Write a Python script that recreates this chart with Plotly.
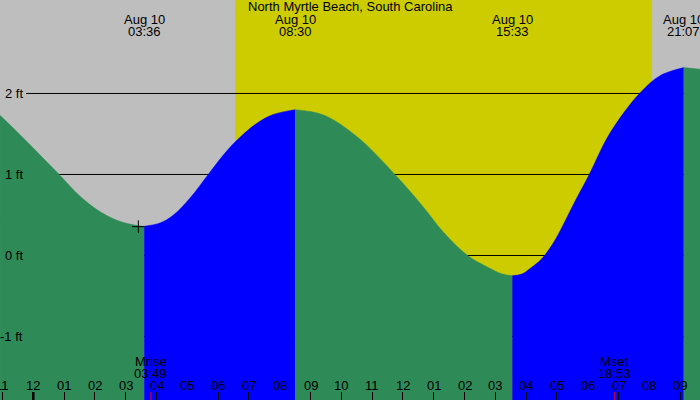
import plotly.graph_objects as go

# ---- data ----
tide_hours = [-1.08, -0.43, 0.22, 0.84, 1.52, 2.17, 2.82, 3.46, 3.60, 4.11, 4.55, 5.09,
              5.68, 6.17, 6.55, 7.25, 7.79, 8.50, 9.42, 10.50, 11.74, 12.66, 13.31,
              14.10, 14.83, 15.20, 15.55, 15.86, 16.13, 16.40, 16.60, 16.94, 17.26,
              17.59, 18.05, 18.72, 19.68, 20.35, 21.12, 21.65]
tide_feet = [1.73, 1.49, 1.24, 1.00, 0.73, 0.54, 0.42, 0.365, 0.36, 0.40, 0.50, 0.71,
             1.00, 1.24, 1.40, 1.63, 1.74, 1.80, 1.735, 1.47, 1.00, 0.60, 0.29,
             0.00, -0.16, -0.225, -0.25, -0.23, -0.16, -0.08, 0.00, 0.19, 0.42,
             0.67, 1.00, 1.51, 2.00, 2.22, 2.32, 2.30]

extreme_hours = [3.60, 8.50, 15.55, 21.12]
extreme_dates = ["Aug 10", "Aug 10", "Aug 10", "Aug 10"]
extreme_times = ["03:36", "08:30", "15:33", "21:07"]

sunrise_hour = 6.55
sunset_hour = 20.09

moon_hours = [3.82, 18.88]
moon_names = ["Mrise", "Mset"]
moon_times = ["03:49", "18:53"]

now_hour = [3.41]
now_feet = [0.356]

hour_ticks = list(range(-1, 22))
hour_labels = ["11", "12", "01", "02", "03", "04", "05", "06", "07", "08", "09", "10",
               "11", "12", "01", "02", "03", "04", "05", "06", "07", "08", "09"]
feet_ticks = [-1, 0, 1, 2]
feet_labels = ["-1 ft", "0 ft", "1 ft", "2 ft"]

title_text = "North Myrtle Beach, South Carolina"

# ---- styling ----
GRAY = "#BEBEBE"
YELLOW = "#CCCC00"
GREEN = "#2E8B57"
BLUE = "#0000FF"
FONT = dict(family="Liberation Sans, Arial, sans-serif", size=13, color="black")
W, H = 700, 400
XR = [-1.081, 21.646]
YR = [-1.784, 3.154]
BASE = -3

fig = go.Figure()

# tide fill segments split at the extremes
bounds = [0] + [tide_hours.index(h) for h in extreme_hours] + [len(tide_hours) - 1]
for a, b in zip(bounds[:-1], bounds[1:]):
    xs = tide_hours[a:b + 1]
    ys = tide_feet[a:b + 1]
    color = BLUE if ys[-1] > ys[0] else GREEN
    fig.add_trace(go.Scatter(x=[xs[0], xs[-1]], y=[BASE, BASE], mode="lines",
                             line=dict(width=0, color=color), hoverinfo="skip",
                             showlegend=False))
    fig.add_trace(go.Scatter(x=xs, y=ys, mode="lines",
                             line=dict(shape="spline", smoothing=1.0, width=0.5, color=color),
                             fill="tonexty", fillcolor=color, hoverinfo="skip",
                             showlegend=False))

fig.add_trace(go.Scatter(x=now_hour, y=now_feet, mode="markers",
                         marker=dict(symbol="cross-thin", size=9,
                                     line=dict(width=1, color="black")),
                         showlegend=False, hoverinfo="skip"))

shapes = [dict(type="rect", xref="x", yref="paper", x0=sunrise_hour, x1=sunset_hour,
               y0=0, y1=1, fillcolor=YELLOW, line=dict(width=0), layer="below")]
for f in feet_ticks:
    shapes.append(dict(type="line", xref="paper", yref="y", x0=26 / W, x1=1, y0=f, y1=f,
                       line=dict(color="black", width=1), layer="between"))
shapes.append(dict(type="line", xref="x", yref="paper", x0=0, x1=0, y0=0, y1=8 / H,
                   line=dict(color="black", width=2.5), layer="above"))
for mh in moon_hours:
    shapes.append(dict(type="line", xref="x", yref="paper", x0=mh, x1=mh, y0=0, y1=8 / H,
                       line=dict(color="red", width=1), layer="above"))

ann = [dict(text=title_text, xref="paper", yref="paper", x=0.5, y=1 - 7 / H,
            xanchor="center", yanchor="middle", showarrow=False, font=FONT)]
for h, d, t in zip(extreme_hours, extreme_dates, extreme_times):
    ann.append(dict(text=d, xref="x", yref="paper", x=h, y=1 - 19.5 / H,
                    xanchor="center", yanchor="middle", showarrow=False, font=FONT))
    ann.append(dict(text=t, xref="x", yref="paper", x=h, y=1 - 31.7 / H,
                    xanchor="center", yanchor="middle", showarrow=False, font=FONT))
for h, n, t in zip(moon_hours, moon_names, moon_times):
    ann.append(dict(text=n, xref="x", yref="paper", x=h, y=1 - 361.7 / H,
                    xanchor="center", yanchor="middle", showarrow=False, font=FONT))
    ann.append(dict(text=t, xref="x", yref="paper", x=h, y=1 - 373.3 / H,
                    xanchor="center", yanchor="middle", showarrow=False, font=FONT))
for h, lab in zip(hour_ticks, hour_labels):
    ann.append(dict(text=lab, xref="x", yref="paper", x=h, y=1 - 385.5 / H,
                    xanchor="center", yanchor="middle", showarrow=False, font=FONT))
for f, lab in zip(feet_ticks, feet_labels):
    ann.append(dict(text=lab, xref="paper", yref="y", x=24.5 / W, y=f,
                    xanchor="right", yanchor="middle", showarrow=False, font=FONT))

fig.update_layout(
    width=W, height=H, autosize=False,
    margin=dict(l=0, r=0, t=0, b=0, pad=0),
    paper_bgcolor=GRAY, plot_bgcolor=GRAY,
    showlegend=False, shapes=shapes, annotations=ann,
    xaxis=dict(range=XR, showgrid=False, zeroline=False, showline=False,
               tickvals=hour_ticks, ticks="inside", ticklen=8, tickwidth=1,
               tickcolor="black", showticklabels=False, fixedrange=True),
    yaxis=dict(range=YR, showgrid=False, zeroline=False, showline=False,
               showticklabels=False, ticks="", fixedrange=True),
)

fig.write_html("out.html", config={"displayModeBar": False},
               post_script="document.body.style.margin='0';document.body.style.overflow='hidden';")
